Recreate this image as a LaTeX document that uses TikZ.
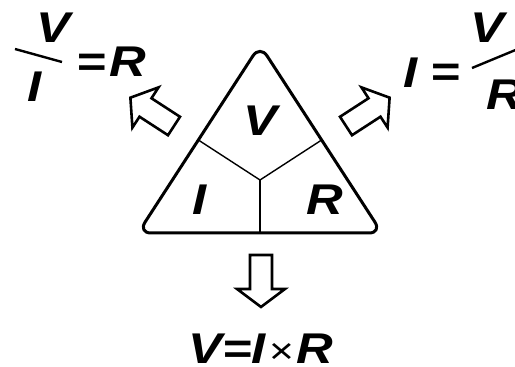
\documentclass[tikz,border=0pt]{standalone}
\usepackage{fontspec}
\setmainfont{Liberation Sans}
\newfontfamily\widesans[FakeStretch=1.18]{Liberation Sans}
\usetikzlibrary{calc}

\begin{document}
\begin{tikzpicture}[
    x=1pt, y=1pt,
    letter/.style={font=\widesans\fontsize{43}{43}\selectfont\bfseries\itshape, inner sep=0pt},
    rim/.style={line width=3pt, rounded corners=13pt, line join=round},
    spoke/.style={line width=1.4pt},
    fracline/.style={line width=2.4pt},
    turn/.pic={
        \draw[line width=2.6pt, fill=white] (0,-11) -- (34,-11) -- (34,-24) -- (52,0) -- (34,24) -- (34,11) -- (0,11) -- cycle;
    }
]
    \useasboundingbox (0,0) rectangle (515,367);

    % triangle
    \coordinate (top) at (260,322);
    \coordinate (bl) at (138,134);
    \coordinate (br) at (382,134);
    \coordinate (hub) at (260,187);
    \draw[rim] (top) -- (br) -- (bl) -- cycle;
    \draw[spoke] (hub) -- ($(bl)!(hub)!(top)$);
    \draw[spoke] (hub) -- ($(br)!(hub)!(top)$);
    \draw[spoke] (hub) -- (hub |- bl);

    \node[letter] (v) at (260,246) {V};
    \node[letter] (i) at (200,167) {I};
    \node[letter] (r) at (325,167) {R};

    % arrows out of the sides
    \pic[rotate=147] at (174,241) {turn};
    \pic[rotate=33] at (346,241) {turn};
    \pic[rotate=-90] at (261,112) {turn};

    % V / I = R
    \node[letter, anchor=base] (lv) at (53,324) {V};
    \node[letter, anchor=base] (li) at (35,265) {I};
    \node[letter, anchor=base] (leq) at (91,290) {=};
    \node[letter, anchor=base] (lr) at (128,290) {R};
    \coordinate (lbar1) at (15,318);
    \coordinate (lbar2) at (62,305);
    \draw[fracline] (lbar1) -- (lbar2);

    % I = V / R
    \node[letter, anchor=base] (ri) at (411,279) {I};
    \node[letter, anchor=base] (req) at (445,280) {=};
    \node[letter, anchor=base] (rv) at (487,324) {V};
    \node[letter, anchor=base] (rr) at (505,257) {R};
    \coordinate (rbar1) at (472,299);
    \coordinate (rbar2) at (530,323);
    \draw[fracline] (rbar1) -- (rbar2);

    % V = I x R
    \node[letter, anchor=base] (law) at (261,3) {V=I\kern3pt{\fontsize{36}{36}\selectfont\mdseries\upshape ×}\kern3pt R};
\end{tikzpicture}
\end{document}
